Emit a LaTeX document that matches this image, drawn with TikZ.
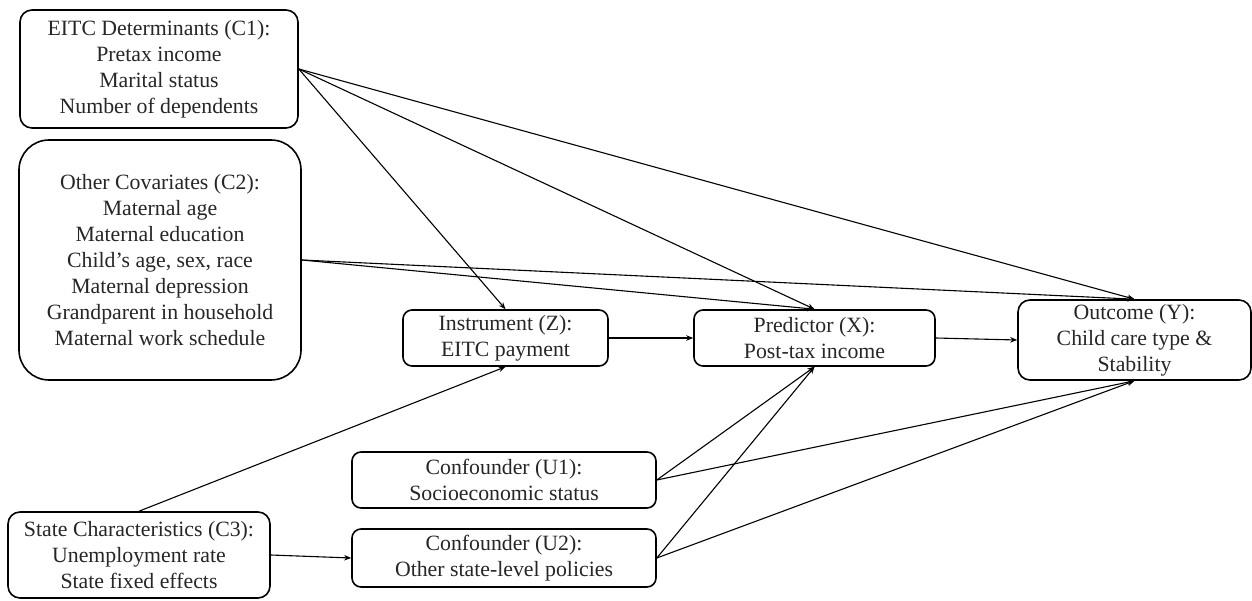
\documentclass[tikz,border=0pt]{standalone}
\usepackage{fontspec}
\setmainfont{Liberation Serif}
\usetikzlibrary{arrows.meta}
\begin{document}
\begin{tikzpicture}[x=1pt,y=-1pt,
  box/.style={draw, line width=1.6pt, rounded corners=12pt, align=center,
    inner sep=0pt, font=\fontsize{21.8}{26}\selectfont, text=black!85},
  conn/.style={line width=1.1pt, -{Stealth[length=7pt,width=5.5pt]}}]
\useasboundingbox (0,0) rectangle (1252,601);
\node[box, minimum width=278pt, minimum height=118pt] (c1) at (159,69)
  {EITC Determinants (C1):\\Pretax income\\Marital status\\Number of dependents};
\node[box, rounded corners=30pt, minimum width=282pt, minimum height=240pt] (c2) at (160,260)
  {Other Covariates (C2):\\Maternal age\\Maternal education\\Child’s age, sex, race\\Maternal depression\\Grandparent in household\\Maternal work schedule};
\node[box, rounded corners=9pt, minimum width=205pt, minimum height=56pt] (z) at (505.5,338)
  {Instrument (Z):\\EITC payment};
\node[box, rounded corners=9pt, minimum width=241pt, minimum height=56pt] (x) at (814.5,338)
  {Predictor (X):\\Post-tax income};
\node[box, rounded corners=12pt, minimum width=233pt, minimum height=80pt] (y) at (1134.5,340)
  {Outcome (Y):\\Child care type \&\\Stability};
\node[box, rounded corners=9pt, minimum width=304pt, minimum height=56pt] (u1) at (504,480)
  {Confounder (U1):\\Socioeconomic status};
\node[box, rounded corners=9pt, minimum width=304pt, minimum height=58pt] (u2) at (504,558)
  {Confounder (U2):\\Other state-level policies};
\node[box, rounded corners=12pt, minimum width=262pt, minimum height=86pt] (c3) at (139,555)
  {State Characteristics (C3):\\Unemployment rate\\State fixed effects};
% connectors
\draw[conn] (c1.east) -- (z.north);
\draw[conn] (c1.east) -- (x.north);
\draw[conn] (c1.east) -- (y.north);
\draw[conn] (c2.east) -- (x.north);
\draw[conn] (c2.east) -- (y.north);
\draw[conn] (z.east) -- (x.west);
\draw[conn] (x.east) -- (y.west);
\draw[conn] (c3.north) -- (z.south);
\draw[conn] (c3.east) -- (u2.west);
\draw[conn] (u1.east) -- (x.south);
\draw[conn] (u1.east) -- (y.south);
\draw[conn] (u2.east) -- (x.south);
\draw[conn] (u2.east) -- (y.south);
\end{tikzpicture}
\end{document}
